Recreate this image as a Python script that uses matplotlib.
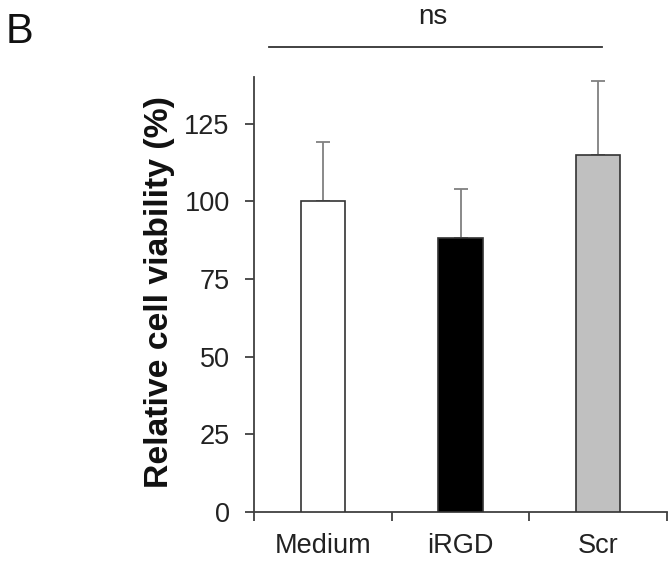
import matplotlib
matplotlib.use("Agg")
import matplotlib.pyplot as plt
from matplotlib.lines import Line2D

categories = ["Medium", "iRGD", "Scr"]
values = [100.0, 88.2, 114.8]
errors = [19.2, 15.6, 24.0]
colors = ["#ffffff", "#000000", "#c0c0c0"]
yticks = [0, 25, 50, 75, 100, 125]
sig_label = "ns"
panel_label = "B"

plt.rcParams['font.family'] = ['Liberation Sans', 'DejaVu Sans']

fig = plt.figure(figsize=(6.7, 5.65), dpi=100)
ax = fig.add_axes([254/670, 53/565, 413/670, 435/565])

x = list(range(len(categories)))
ax.bar(x, values, width=0.32, color=colors, edgecolor="#333333", linewidth=1.2, zorder=3)
ax.errorbar(x, values, yerr=[[0]*len(errors), errors], fmt="none", ecolor="#808080",
            elinewidth=1.3, capsize=5, capthick=1.3, zorder=2)

ax.set_xlim(-0.5, len(categories) - 0.5)
ax.set_ylim(0, 140)
ax.set_yticks(yticks)
ax.set_yticklabels([str(t) for t in yticks])
ax.set_xticks(x)
ax.set_xticklabels(categories)
ax.set_xticks([i - 0.5 for i in range(len(categories) + 1)], minor=True)

for s in ["top", "right"]:
    ax.spines[s].set_visible(False)
for s in ["left", "bottom"]:
    ax.spines[s].set_color("#404040")
    ax.spines[s].set_linewidth(1.3)

ax.tick_params(axis="x", which="major", length=0, pad=15, labelsize=19.5, colors="#222222")
ax.tick_params(axis="x", which="minor", length=6.5, width=1.3, color="#404040", direction="out")
ax.tick_params(axis="y", which="major", length=6.5, width=1.3, color="#404040", pad=11,
               labelsize=19.5, labelcolor="#222222")

ax.set_ylabel("Relative cell viability (%)", fontsize=24.3, fontweight="bold", color="#111111")
ax.yaxis.set_label_coords(-0.192, 0.505)

fig.add_artist(Line2D([269/670, 602/670], [1 - 47/565, 1 - 47/565], color="#333333",
                      linewidth=1.3, transform=fig.transFigure))
fig.text(433/670, 1 - 24/565, sig_label, ha="center", va="baseline", fontsize=20, color="#222222")
fig.text(6/670, 1 - 43/565, panel_label, ha="left", va="baseline", fontsize=30, color="#111111")

fig.savefig("out.png", dpi=100)
